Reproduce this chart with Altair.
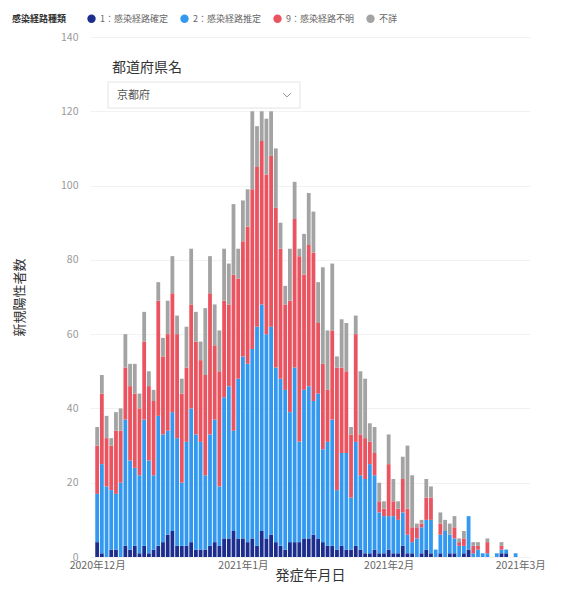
import altair as alt
import pandas as pd

start_date = "2020-12-01"
categories = ["1：感染経路確定", "2：感染経路推定", "9：感染経路不明", "不詳"]
colors = ["#1c2d8e", "#3399f0", "#ea5460", "#a3a3a3"]

cat1 = [4, 1, 0, 2, 2, 0, 3, 2, 3, 1, 3, 1, 2, 3, 4, 6, 7, 3, 3, 3,
        4, 2, 2, 2, 3, 4, 3, 5, 5, 7, 5, 5, 4, 5, 3, 7, 5, 6, 4, 3,
        2, 4, 4, 4, 5, 5, 6, 5, 4, 3, 3, 2, 3, 2, 2, 3, 2, 1, 1, 2,
        1, 1, 2, 1, 1, 3, 1, 1, 0, 1, 2, 1, 0, 1, 0, 1, 1, 0, 1, 2,
        0, 0, 0, 0, 0, 0, 1, 1, 0, 0]
cat2 = [13, 24, 19, 16, 15, 20, 34, 24, 21, 21, 34, 25, 20, 35, 29, 28, 32, 29, 17, 28,
        36, 31, 29, 20, 30, 33, 16, 38, 41, 27, 43, 49, 48, 51, 59, 61, 55, 56, 47, 45,
        43, 35, 47, 27, 40, 41, 36, 39, 25, 28, 34, 16, 25, 26, 14, 28, 20, 20, 24, 20,
        11, 10, 9, 10, 9, 9, 5, 3, 5, 7, 8, 9, 2, 5, 7, 5, 4, 3, 2, 9,
        1, 2, 1, 1, 0, 1, 1, 1, 0, 1]
cat9 = [13, 19, 13, 12, 17, 14, 14, 20, 20, 18, 21, 20, 20, 31, 21, 26, 32, 28, 24, 20,
        28, 25, 22, 27, 38, 20, 31, 26, 22, 42, 27, 31, 37, 43, 43, 44, 43, 46, 43, 35,
        23, 30, 40, 50, 31, 38, 40, 19, 23, 14, 24, 33, 23, 22, 17, 29, 11, 11, 6, 6,
        3, 2, 14, 4, 3, 9, 7, 4, 3, 1, 6, 6, 0, 3, 0, 0, 3, 1, 2, 0,
        2, 1, 0, 3, 0, 0, 1, 0, 0, 0]
unknown = [5, 5, 6, 2, 5, 6, 9, 6, 8, 4, 8, 4, 3, 5, 5, 9, 10, 5, 4, 11,
           15, 8, 5, 18, 10, 11, 11, 14, 11, 19, 8, 11, 10, 21, 11, 8, 15, 12, 16, 7,
           5, 14, 10, 2, 11, 14, 11, 11, 26, 16, 18, 3, 13, 13, 2, 5, 17, 16, 5, 7,
           5, 2, 8, 6, 2, 6, 17, 14, 1, 1, 5, 3, 0, 3, 3, 3, 3, 1, 2, 0,
           1, 1, 0, 1, 0, 0, 1, 0, 0, 0]

y_ticks = [0, 20, 40, 60, 80, 100, 120, 140]
month_ticks = [(2020, 12), (2021, 1), (2021, 2), (2021, 3)]

FONT = "Noto Sans CJK JP"

dates = pd.date_range(start_date, periods=len(cat1), freq="D")
rows = []
for i, d in enumerate(dates):
    for k, (cat, series) in enumerate(zip(categories, [cat1, cat2, cat9, unknown])):
        rows.append({"date": d.strftime("%Y-%m-%dT00:00:00"), "cat": cat,
                     "order": k, "count": series[i]})
df = pd.DataFrame(rows)

x_scale = alt.Scale(domain=[alt.DateTime(year=2020, month=11, date=30, hours=13),
                            alt.DateTime(year=2021, month=3, date=2, hours=0)])

bars = alt.Chart(df).mark_bar(width=3.8).encode(
    x=alt.X("date:T", scale=x_scale,
            axis=alt.Axis(values=[alt.DateTime(year=y, month=m, date=1) for y, m in month_ticks],
                          format="%Y年%-m月", labelFlush=False, labelOverlap=False,
                          grid=False, ticks=False, domain=False, labelFontSize=10.5,
                          labelColor="#666666", labelPadding=3,
                          title="発症年月日", titleFontSize=14, titleColor="#333333",
                          titleFontWeight="normal", titlePadding=-2)),
    y=alt.Y("count:Q", stack="zero",
            scale=alt.Scale(domain=[0, 140]),
            axis=alt.Axis(values=y_ticks, grid=True, gridColor="#f2f2f2", ticks=False,
                          domain=False, labelFontSize=10.5, labelColor="#9a9a9a",
                          labelPadding=12, title="新規陽性者数", titleFontSize=13,
                          titleColor="#333333", titleFontWeight="normal", titlePadding=34)),
    color=alt.Color("cat:N", scale=alt.Scale(domain=categories, range=colors),
                    legend=alt.Legend(title="感染経路種類", orient="none", legendX=-78, legendY=-23,
                                      direction="horizontal", titleOrient="left",
                                      titleFontSize=9, titleColor="#333333", titleFontWeight="bold",
                                      titlePadding=20, labelFontSize=9, labelColor="#666666",
                                      symbolType="circle", symbolSize=70, symbolStrokeWidth=0,
                                      columnPadding=12, labelOffset=4)),
    order=alt.Order("order:Q"),
)

box = alt.Chart(pd.DataFrame({"a": [0]})).mark_rect(fill="white", stroke="#e4e4e4", strokeWidth=1).encode(
    x=alt.value(18), x2=alt.value(210), y=alt.value(45), y2=alt.value(71))

slicer_label = alt.Chart(pd.DataFrame({"t": ["都道府県名"]})).mark_text(
    align="left", baseline="middle", fontSize=14, color="#333333", font=FONT).encode(
    x=alt.value(22), y=alt.value(31), text="t:N")

slicer_value = alt.Chart(pd.DataFrame({"t": ["京都府"]})).mark_text(
    align="left", baseline="middle", fontSize=11, color="#555555", font=FONT).encode(
    x=alt.value(27), y=alt.value(59), text="t:N")

chevron = alt.Chart(pd.DataFrame({"a": [0]})).mark_point(
    shape="M-1,-0.5L0,0.5L1,-0.5", filled=False, size=60, strokeWidth=1, color="#666666").encode(
    x=alt.value(197), y=alt.value(58))

chart = alt.layer(bars, box, slicer_label, slicer_value, chevron).properties(
    width=440, height=520,
    autosize=alt.AutoSizeParams(type="none"),
    padding={"left": 82, "top": 29, "right": 23, "bottom": 28},
).configure(font=FONT).configure_view(stroke=None)

chart.save("out.html", embed_options={"renderer": "svg", "actions": False})
